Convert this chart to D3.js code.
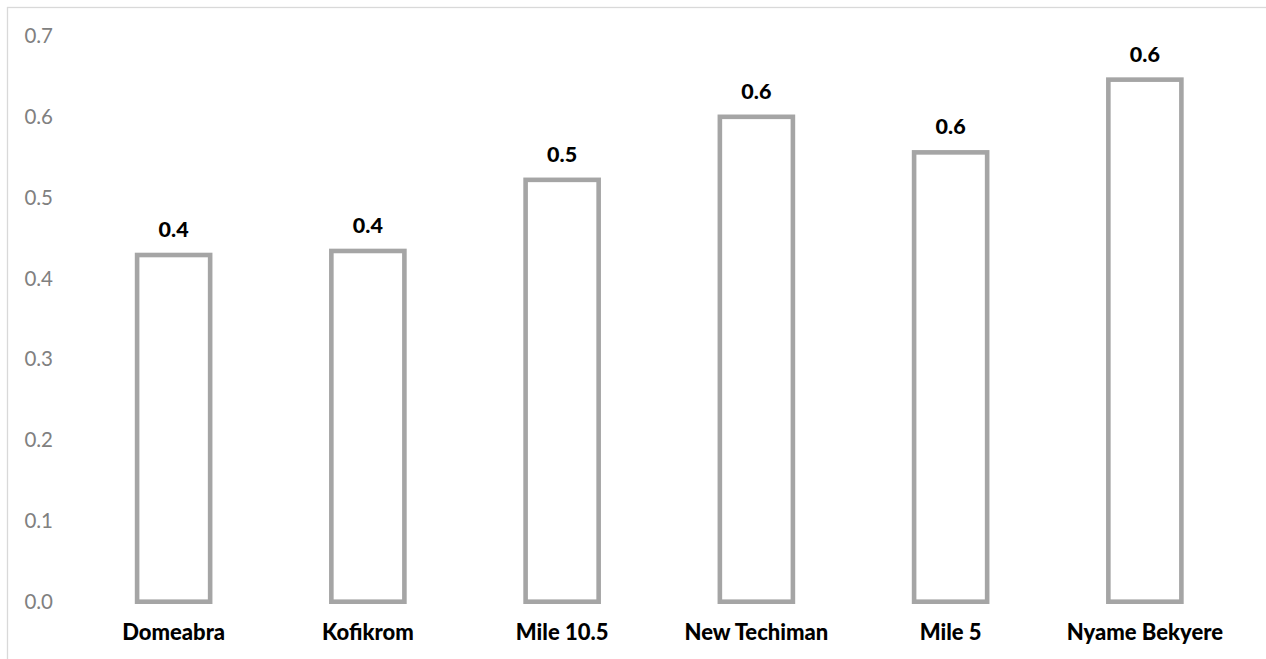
<!DOCTYPE html>
<html>
<head>
<meta charset="utf-8">
<script src="https://cdn.jsdelivr.net/npm/d3@7"></script>
<style>
  html, body { margin: 0; padding: 0; background: #ffffff; }
  svg { display: block; }
</style>
</head>
<body>
<svg id="chart" width="1266" height="659"></svg>
<script>
const categories = ["Domeabra", "Kofikrom", "Mile 10.5", "New Techiman", "Mile 5", "Nyame Bekyere"];
const values = [0.429, 0.434, 0.522, 0.600, 0.556, 0.646];
const yTicks = [0, 0.1, 0.2, 0.3, 0.4, 0.5, 0.6, 0.7];

const W = 1266, H = 659;
const svg = d3.select("#chart");
const FONT = "Lato, 'Open Sans', sans-serif";

// chart area border (extends past right & bottom edges)
svg.append("rect")
  .attr("x", 7.5).attr("y", 7.5)
  .attr("width", W + 20).attr("height", H + 20)
  .attr("fill", "#ffffff")
  .attr("stroke", "#d9d9d9")
  .attr("stroke-width", 1.3);

const x = d3.scaleBand()
  .domain(categories)
  .range([76.5, 1242])
  .paddingInner(0.624)
  .paddingOuter(0.312);

const y = d3.scaleLinear()
  .domain([0, 0.7])
  .range([601.7, 36]);

// y axis (labels only)
const yAxis = svg.append("g")
  .attr("transform", "translate(53,0)")
  .call(d3.axisLeft(y).tickValues(yTicks).tickFormat(d3.format(".1f")).tickSize(0).tickPadding(0));
yAxis.select(".domain").remove();
yAxis.selectAll("text")
  .attr("fill", "#808080")
  .style("font-family", FONT)
  .style("font-size", "20.5px");

// bars
svg.append("g").selectAll("rect")
  .data(categories)
  .join("rect")
  .attr("x", d => x(d))
  .attr("y", (d, i) => y(values[i]))
  .attr("width", x.bandwidth())
  .attr("height", (d, i) => y(0) - y(values[i]))
  .attr("fill", "#ffffff")
  .attr("stroke", "#a5a5a5")
  .attr("stroke-width", 4.6);

// data labels
svg.append("g").selectAll("text")
  .data(categories)
  .join("text")
  .attr("x", d => x(d) + x.bandwidth() / 2)
  .attr("y", (d, i) => y(values[i]) - 18)
  .attr("text-anchor", "middle")
  .attr("fill", "#000000")
  .style("font-family", FONT)
  .style("font-weight", "900")
  .style("font-size", "21.5px")
  .text((d, i) => d3.format(".1f")(values[i]));

// category labels
svg.append("g").selectAll("text")
  .data(categories)
  .join("text")
  .attr("x", d => x(d) + x.bandwidth() / 2)
  .attr("y", 640)
  .attr("text-anchor", "middle")
  .attr("fill", "#000000")
  .style("font-family", FONT)
  .style("font-weight", "900")
  .style("font-size", "22px")
  .text(d => d);
</script>
</body>
</html>
